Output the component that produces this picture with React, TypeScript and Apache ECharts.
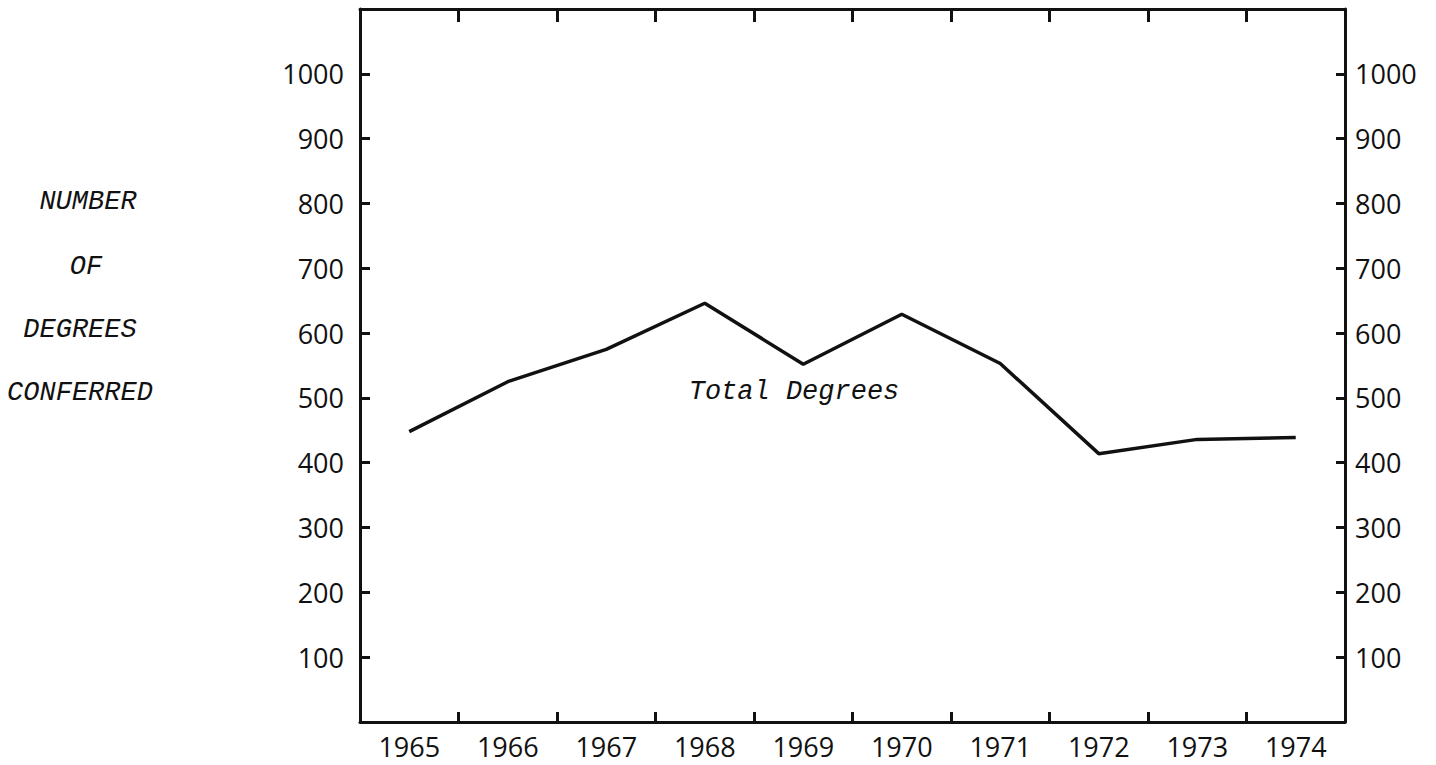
import React, { useEffect, useRef } from "react";
import * as echarts from "echarts";

const years = ["1965", "1966", "1967", "1968", "1969", "1970", "1971", "1972", "1973", "1974"];
const totalDegrees = [448, 525, 575, 646, 552, 629, 553, 414, 436, 439];
const yTicks = [100, 200, 300, 400, 500, 600, 700, 800, 900, 1000];
const sideTitle = ["NUMBER", "OF", "DEGREES", "CONFERRED"];
const seriesLabel = "Total Degrees";

export default function App() {
  const ref = useRef<HTMLDivElement>(null);
  useEffect(() => {
    if (!ref.current) return;
    const chart = echarts.init(ref.current, null, { renderer: "svg" });
    const numFont = "'Open Sans', sans-serif";
    const typeFont = "'Liberation Mono', 'Courier New', monospace";
    const axisLine = { show: true, onZero: false, lineStyle: { color: "#111", width: 3 } };
    const titleY = [202, 267, 330, 393];
    const titleX = [88, 86, 80, 80];
    chart.setOption({
      animation: false,
      backgroundColor: "#fff",
      grid: { left: 360, right: 91, top: 9, bottom: 43, containLabel: false },
      xAxis: [
        {
          type: "category",
          data: years,
          position: "bottom",
          boundaryGap: true,
          axisLine,
          axisTick: { show: true, inside: true, length: 10, lineStyle: { color: "#111", width: 3 } },
          axisLabel: { color: "#111", fontFamily: numFont, fontSize: 27, margin: 11 },
          splitLine: { show: false },
        },
        {
          type: "category",
          data: years,
          position: "top",
          boundaryGap: true,
          axisLine,
          axisTick: { show: true, inside: true, length: 13, lineStyle: { color: "#111", width: 3 } },
          axisLabel: { show: false },
          splitLine: { show: false },
        },
      ],
      yAxis: [
        {
          type: "value",
          position: "left",
          min: 0,
          max: 1100,
          interval: 100,
          axisLine,
          axisTick: {
            show: true,
            inside: true,
            length: 10,
            customValues: yTicks,
            lineStyle: { color: "#111", width: 3 },
          },
          axisLabel: {
            color: "#111",
            fontFamily: numFont,
            fontSize: 27,
            margin: 16,
            formatter: (v: number) => (yTicks.includes(v) ? String(v) : ""),
          },
          splitLine: { show: false },
        },
        {
          type: "value",
          position: "right",
          min: 0,
          max: 1100,
          interval: 100,
          axisLine,
          axisTick: {
            show: true,
            inside: true,
            length: 9,
            customValues: yTicks,
            lineStyle: { color: "#111", width: 3 },
          },
          axisLabel: {
            color: "#111",
            fontFamily: numFont,
            fontSize: 27,
            margin: 10,
            formatter: (v: number) => (yTicks.includes(v) ? String(v) : ""),
          },
          splitLine: { show: false },
        },
      ],
      series: [
        {
          type: "line",
          name: seriesLabel,
          data: totalDegrees,
          xAxisIndex: 0,
          yAxisIndex: 0,
          showSymbol: false,
          symbol: "none",
          lineStyle: { color: "#111", width: 3.5 },
        },
      ],
      graphic: [
        ...sideTitle.map((t, i) => ({
          type: "text",
          x: titleX[i],
          y: titleY[i],
          style: {
            text: t,
            fontFamily: typeFont,
            fontStyle: "italic",
            fontSize: 27,
            fill: "#111",
            align: "center",
            verticalAlign: "middle",
          },
        })),
        {
          type: "text",
          x: 794,
          y: 392,
          style: {
            text: seriesLabel,
            fontFamily: typeFont,
            fontStyle: "italic",
            fontSize: 27,
            fill: "#111",
            align: "center",
            verticalAlign: "middle",
          },
        },
      ],
    });
    return () => chart.dispose();
  }, []);
  return (
    <div
      ref={ref}
      style={{ position: "absolute", left: 0, top: 0, width: 1436, height: 765, background: "#fff" }}
    />
  );
}
